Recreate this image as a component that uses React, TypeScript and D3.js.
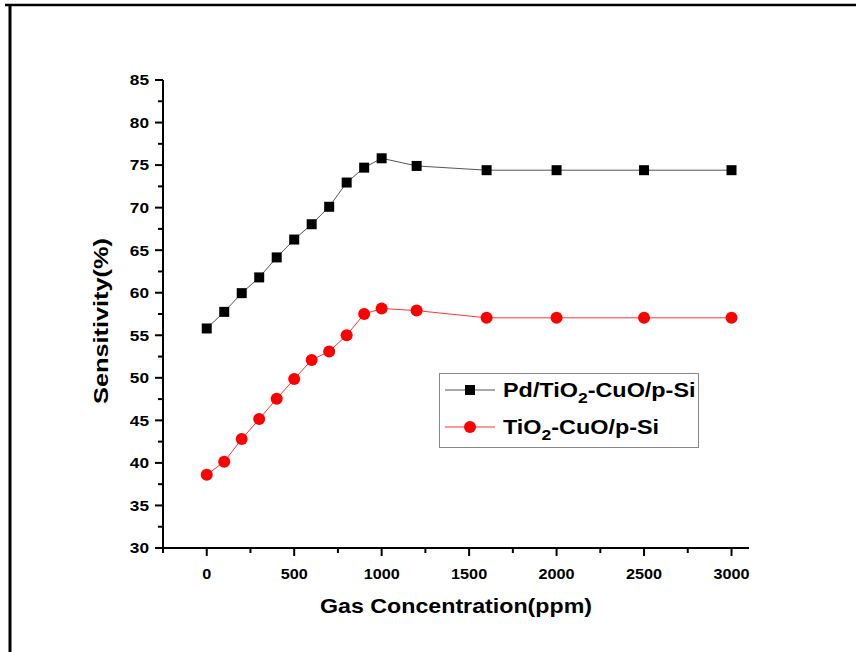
import React from "react";
import * as d3 from "d3";

const concentrations = [0, 100, 200, 300, 400, 500, 600, 700, 800, 900, 1000, 1200, 1600, 2000, 2500, 3000];
const pdSeries = [55.8, 57.75, 59.95, 61.8, 64.15, 66.25, 68.05, 70.1, 72.95, 74.7, 75.8, 74.9, 74.4, 74.4, 74.4, 74.4];
const tiSeries = [38.6, 40.15, 42.8, 45.15, 47.55, 49.85, 52.1, 53.1, 55.0, 57.5, 58.15, 57.9, 57.05, 57.05, 57.05, 57.05];
const xMajorTicks = [0, 500, 1000, 1500, 2000, 2500, 3000];
const xMinorTicks = [-250, 250, 750, 1250, 1750, 2250, 2750];
const yMajorTicks = [30, 35, 40, 45, 50, 55, 60, 65, 70, 75, 80, 85];
const yMinorTicks = [32.5, 37.5, 42.5, 47.5, 52.5, 57.5, 62.5, 67.5, 72.5, 77.5, 82.5];
const xTitle = "Gas Concentration(ppm)";
const yTitle = "Sensitivity(%)";

const FONT = "'Liberation Sans', Arial, sans-serif";

export default function App() {
  const W = 856, H = 652;
  const x = d3.scaleLinear().domain([-250, 3100]).range([163, 749]);
  const y = d3.scaleLinear().domain([30, 85]).range([548, 80]);
  const line = d3.line<number>().x((_, i) => x(concentrations[i])).y((d) => y(d));
  const x0 = x(-250), y0 = y(30);

  return (
    <svg width={W} height={H} style={{ position: "absolute", left: 0, top: 0, background: "#fff" }} fontFamily={FONT}>
      <rect x={0} y={0} width={W} height={H} fill="#fff" />
      {/* page frame */}
      <line x1={5} y1={5} x2={W} y2={5} stroke="#000" strokeWidth={2.5} />
      <line x1={10} y1={5} x2={10} y2={H} stroke="#000" strokeWidth={3} />

      {/* axes */}
      <line x1={x0} y1={y(85)} x2={x0} y2={y0 + 1} stroke="#000" strokeWidth={2} />
      <line x1={x0 - 1} y1={y0} x2={x(3100)} y2={y0} stroke="#000" strokeWidth={2} />
      {yMajorTicks.map((t) => (
        <g key={"ym" + t}>
          <line x1={x0 - 8} x2={x0} y1={y(t)} y2={y(t)} stroke="#000" strokeWidth={2} />
          <text transform={`translate(${x0 - 14},${y(t)}) scale(1.15,1)`} dy="0.36em" textAnchor="end" fontSize={15} fontWeight="bold">{t}</text>
        </g>
      ))}
      {yMinorTicks.map((t) => (
        <line key={"yn" + t} x1={x0 - 5} x2={x0} y1={y(t)} y2={y(t)} stroke="#000" strokeWidth={2} />
      ))}
      {xMajorTicks.map((t) => (
        <g key={"xm" + t}>
          <line x1={x(t)} x2={x(t)} y1={y0} y2={y0 + 8} stroke="#000" strokeWidth={2} />
          <text transform={`translate(${x(t)},${y0 + 26}) scale(1.08,1)`} dy="0.36em" textAnchor="middle" fontSize={15} fontWeight="bold">{t}</text>
        </g>
      ))}
      {xMinorTicks.map((t) => (
        <line key={"xn" + t} x1={x(t)} x2={x(t)} y1={y0} y2={y0 + 5} stroke="#000" strokeWidth={2} />
      ))}

      {/* titles */}
      <text x={456} y={613} textAnchor="middle" fontSize={20} fontWeight="bold" textLength={272} lengthAdjust="spacingAndGlyphs">{xTitle}</text>
      <text transform="translate(108,321) rotate(-90)" textAnchor="middle" fontSize={20} fontWeight="bold" textLength={166} lengthAdjust="spacingAndGlyphs">{yTitle}</text>

      {/* series */}
      <path d={line(pdSeries) || ""} fill="none" stroke="#555" strokeWidth={1} />
      <path d={line(tiSeries) || ""} fill="none" stroke="#f33" strokeWidth={1} />
      {pdSeries.map((v, i) => (
        <rect key={"p" + i} x={x(concentrations[i]) - 5} y={y(v) - 5} width={10} height={10} fill="#000" />
      ))}
      {tiSeries.map((v, i) => (
        <circle key={"t" + i} cx={x(concentrations[i])} cy={y(v)} r={6} fill="#f00" />
      ))}

      {/* legend */}
      <rect x={439.5} y={373.5} width={259} height={74} fill="#fff" stroke="#888" strokeWidth={1} />
      <line x1={445} x2={495} y1={390} y2={390} stroke="#555" strokeWidth={1} />
      <rect x={465} y={385} width={10} height={10} fill="#000" />
      <text transform="translate(503,397) scale(1.17,1)" fontSize={20} fontWeight="bold">
        Pd/TiO<tspan fontSize={15} dy={6}>2</tspan><tspan dy={-6}>-CuO/p-Si</tspan>
      </text>
      <line x1={445} x2={495} y1={427} y2={427} stroke="#f33" strokeWidth={1} />
      <circle cx={470} cy={427} r={6} fill="#f00" />
      <text transform="translate(503,434) scale(1.17,1)" fontSize={20} fontWeight="bold">
        TiO<tspan fontSize={15} dy={6}>2</tspan><tspan dy={-6}>-CuO/p-Si</tspan>
      </text>
    </svg>
  );
}
